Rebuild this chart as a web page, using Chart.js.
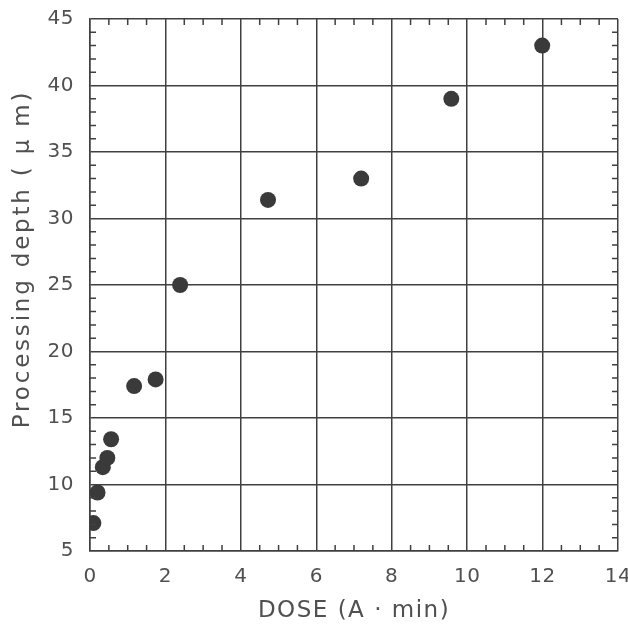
<!DOCTYPE html>
<html>
<head>
<meta charset="utf-8">
<script src="https://cdn.jsdelivr.net/npm/chart.js@4"></script>
<style>
  html, body { margin: 0; padding: 0; background: #fff; }
  #wrap { width: 628px; height: 628px; }
</style>
</head>
<body>
<div id="wrap"><canvas id="myChart" width="628" height="628"></canvas></div>
<script>
// dose in A*min, processing depth in micrometres
var doseValues = [0.09, 0.2, 0.34, 0.46, 0.56, 1.17, 1.74, 2.39, 4.72, 7.19, 9.58, 11.99];
var depthValues = [7.1, 9.4, 11.3, 12.0, 13.4, 17.4, 17.9, 25.0, 31.4, 33.0, 39.0, 43.0];
var xTicks = [0, 2, 4, 6, 8, 10, 12, 14];
var yTicks = [5, 10, 15, 20, 25, 30, 35, 40, 45];
var xTitle = 'DOSE (A \u00b7 min)';
var yTitle = 'Processing depth ( \u03bc m)';

var points = doseValues.map(function (d, i) { return { x: d, y: depthValues[i] }; });
var lineColor = '#404040';
var textColor = '#505050';
var fontFamily = 'DejaVu Sans';

// small inward minor ticks on all four sides, plus axis titles with wide spacing
var extras = {
    id: 'extras',
    beforeDraw: function (chart) {
        chart.ctx.letterSpacing = '0.5px';
    },
    afterDraw: function (chart) {
        var c = chart.ctx, a = chart.chartArea;
        var xs = chart.scales.x, ys = chart.scales.y;
        c.save();
        c.strokeStyle = lineColor;
        c.lineWidth = 1.5;
        c.beginPath();
        for (var v = 0.5; v < 14; v += 0.5) {
            if (v % 2 === 0) continue;
            var px = xs.getPixelForValue(v);
            c.moveTo(px, a.bottom); c.lineTo(px, a.bottom - 6);
            c.moveTo(px, a.top); c.lineTo(px, a.top + 6);
        }
        for (var w = 6; w < 45; w += 1) {
            if (w % 5 === 0) continue;
            var py = ys.getPixelForValue(w);
            c.moveTo(a.left, py); c.lineTo(a.left + 6, py);
            c.moveTo(a.right, py); c.lineTo(a.right - 6, py);
        }
        c.stroke();

        c.fillStyle = textColor;
        c.font = '23px "' + fontFamily + '"';
        c.textAlign = 'center';
        c.textBaseline = 'middle';
        c.letterSpacing = '1.5px';
        c.fillText(xTitle, (a.left + a.right) / 2, 611);
        c.translate(23, 259);
        c.rotate(-Math.PI / 2);
        c.letterSpacing = '2.8px';
        c.fillText(yTitle, 0, 0);
        c.restore();
    }
};

var ctx = document.getElementById('myChart').getContext('2d');
var chart = new Chart(ctx, {
    type: 'scatter',
    data: {
        datasets: [{
            data: points,
            pointRadius: 8,
            pointHoverRadius: 8,
            backgroundColor: '#3a3a3a',
            borderWidth: 0
        }]
    },
    options: {
        responsive: false,
        animation: false,
        layout: { padding: { top: 19, right: 10, bottom: 0, left: 0 } },
        plugins: { legend: { display: false }, tooltip: { enabled: false } },
        scales: {
            x: {
                type: 'linear',
                min: 0, max: 14,
                afterBuildTicks: function (s) { s.ticks = xTicks.map(function (v) { return { value: v }; }); },
                afterFit: function (s) { s.height = 77; s.paddingLeft = 0; s.paddingRight = 0; },
                grid: { color: lineColor, lineWidth: 1.5, drawTicks: false },
                border: { color: lineColor, width: 1.5 },
                ticks: { color: textColor, padding: 14, font: { family: fontFamily, size: 20 } }
            },
            y: {
                type: 'linear',
                min: 5, max: 45,
                afterBuildTicks: function (s) { s.ticks = yTicks.map(function (v) { return { value: v }; }); },
                afterFit: function (s) { s.width = 90; s.paddingTop = 0; s.paddingBottom = 0; },
                grid: { color: lineColor, lineWidth: 1.5, drawTicks: false },
                border: { color: lineColor, width: 1.5 },
                ticks: { color: textColor, padding: 16, font: { family: fontFamily, size: 20 } }
            }
        }
    },
    plugins: [extras]
});
</script>
</body>
</html>
